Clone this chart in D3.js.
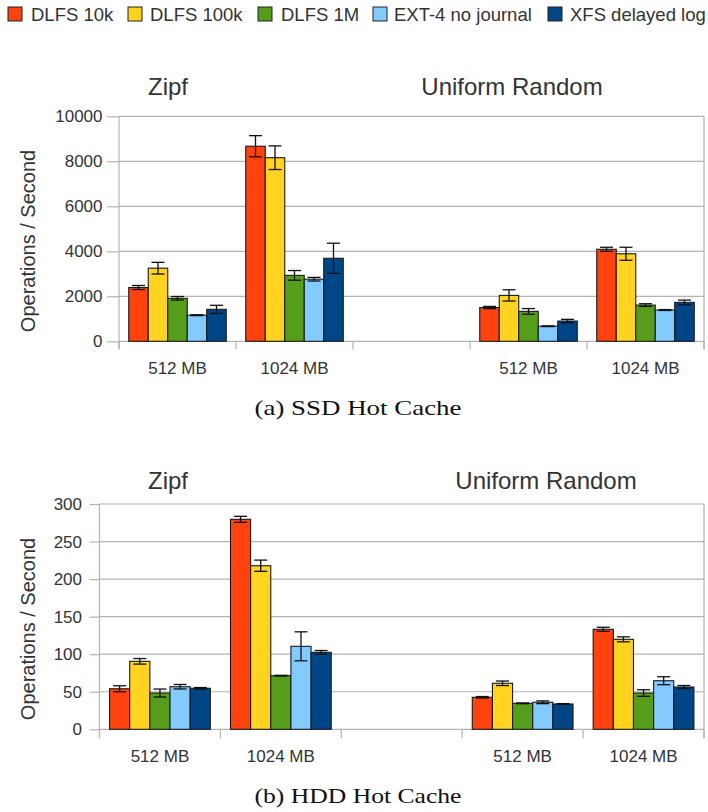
<!DOCTYPE html>
<html>
<head>
<meta charset="utf-8">
<script src="https://cdn.jsdelivr.net/npm/d3@7"></script>
<style>
  html, body { margin: 0; padding: 0; background: #fff; }
  svg { display: block; }
  text { font-family: "Liberation Sans", Arial, sans-serif; }
  text.caption { font-family: "Liberation Serif", "Times New Roman", serif; }
</style>
</head>
<body>
<svg id="chart" width="708" height="812"></svg>
<script>
// Series shown in every group
const series = ["DLFS 10k", "DLFS 100k", "DLFS 1M", "EXT-4 no journal", "XFS delayed log"];
const seriesColors = ["#ff420e", "#ffd320", "#579d1c", "#83caff", "#004586"];

// Category slots along the x axis (the middle slot is left empty)
const categories = ["512 MB", "1024 MB", "", "512 MB", "1024 MB"];
const workloads = ["Zipf", "Uniform Random"];

// SSD hot cache: mean and error per category, one entry per series
const ssdValues = [
  [2390, 3250, 1910, 1160, 1420],
  [8670, 8160, 2930, 2760, 3690],
  null,
  [1500, 2040, 1330, 670, 900],
  [4090, 3890, 1610, 1390, 1730]
];
const ssdErrors = [
  [90, 260, 80, 20, 180],
  [470, 525, 215, 80, 670],
  null,
  [50, 250, 125, 15, 75],
  [90, 290, 60, 20, 100]
];
const ssdTicks = [0, 2000, 4000, 6000, 8000, 10000];

// HDD hot cache
const hddValues = [
  [54, 90.5, 48.3, 56.7, 54.6],
  [279.6, 217.8, 71.4, 110.5, 102.5],
  null,
  [42.6, 61.3, 34.6, 36, 33.7],
  [133.2, 119.8, 48.3, 64.7, 56.3]
];
const hddErrors = [
  [4, 3.7, 5.3, 3, 1],
  [4, 7.5, 0.5, 19.3, 2.4],
  null,
  [1, 3, 0.5, 1.8, 0.5],
  [2.7, 3.3, 4.4, 5.3, 2]
];
const hddTicks = [0, 50, 100, 150, 200, 250, 300];

const svg = d3.select("#chart");
const gridColor = "#b3b3b3";
const textColor = "#333333";

// ---- legend ----
const legendItems = [
  { sq: 8, tx: 31 },
  { sq: 128, tx: 150 },
  { sq: 258, tx: 281 },
  { sq: 373, tx: 394 },
  { sq: 548, tx: 570 }
];
const legend = svg.append("g");
series.forEach((s, i) => {
  legend.append("rect")
    .attr("x", legendItems[i].sq).attr("y", 7)
    .attr("width", 14).attr("height", 14)
    .attr("fill", seriesColors[i])
    .attr("stroke", "#222").attr("stroke-width", 1);
  legend.append("text")
    .attr("x", legendItems[i].tx).attr("y", 21)
    .attr("font-size", 18.5).attr("fill", textColor)
    .text(s);
});

function drawPanel(cfg) {
  const g = svg.append("g");
  const x = d3.scaleBand().domain(d3.range(categories.length))
    .range([cfg.left, cfg.right]).paddingInner(0).paddingOuter(0);
  const xs = d3.scaleBand().domain(d3.range(series.length))
    .range([0, x.bandwidth()]).paddingInner(0).paddingOuter(0.5);
  const y = d3.scaleLinear().domain([0, cfg.max]).range([cfg.base, cfg.top]);

  // horizontal grid
  g.selectAll("line.grid").data(cfg.ticks).enter().append("line")
    .attr("x1", cfg.left).attr("x2", cfg.right)
    .attr("y1", d => y(d)).attr("y2", d => y(d))
    .attr("stroke", gridColor).attr("stroke-width", 1.2);

  // y axis
  const yAxis = d3.axisLeft(y).tickValues(cfg.ticks).tickFormat(d3.format("d"))
    .tickSize(cfg.tickLen).tickPadding(cfg.tickPad);
  const ya = g.append("g").attr("transform", `translate(${cfg.left},0)`).call(yAxis);
  ya.select(".domain").remove();
  ya.selectAll("line").attr("stroke", gridColor).attr("stroke-width", 1.2);
  ya.selectAll("text").attr("font-size", 17).attr("fill", textColor)
    .attr("font-family", null);
  g.append("line")
    .attr("x1", cfg.left).attr("x2", cfg.left)
    .attr("y1", y(cfg.max)).attr("y2", cfg.base + cfg.xTick)
    .attr("stroke", gridColor).attr("stroke-width", 1.2);
  g.append("line")
    .attr("x1", cfg.right).attr("x2", cfg.right)
    .attr("y1", y(cfg.max)).attr("y2", cfg.base + cfg.xTick)
    .attr("stroke", gridColor).attr("stroke-width", 1.2);

  // x axis category separators
  const bounds = d3.range(categories.length + 1).map(i => cfg.left + i * x.step());
  g.selectAll("line.xt").data(bounds).enter().append("line")
    .attr("x1", d => d).attr("x2", d => d)
    .attr("y1", cfg.base).attr("y2", cfg.base + cfg.xTick)
    .attr("stroke", gridColor).attr("stroke-width", 1.2);
  g.selectAll("text.cat").data(categories).enter().append("text")
    .attr("x", (d, i) => x(i) + x.bandwidth() / 2)
    .attr("y", cfg.catY)
    .attr("text-anchor", "middle")
    .attr("font-size", 17).attr("fill", textColor)
    .text(d => d);

  // bars with error bars
  cfg.values.forEach((vals, ci) => {
    if (!vals) return;
    const errs = cfg.errors[ci];
    const cg = g.append("g").attr("transform", `translate(${x(ci)},0)`);
    cg.selectAll("rect").data(vals).enter().append("rect")
      .attr("x", (d, i) => xs(i))
      .attr("y", d => y(d))
      .attr("width", xs.bandwidth())
      .attr("height", d => cfg.base - y(d))
      .attr("fill", (d, i) => seriesColors[i])
      .attr("stroke", "#1a1a1a").attr("stroke-width", 1.1);
    vals.forEach((v, i) => {
      const cx = xs(i) + xs.bandwidth() / 2;
      const e = errs[i];
      const eb = cg.append("g").attr("stroke", "#111").attr("stroke-width", 1.3);
      eb.append("line").attr("x1", cx).attr("x2", cx).attr("y1", y(v + e)).attr("y2", y(v - e));
      eb.append("line").attr("x1", cx - 6.5).attr("x2", cx + 6.5).attr("y1", y(v + e)).attr("y2", y(v + e));
      eb.append("line").attr("x1", cx - 6.5).attr("x2", cx + 6.5).attr("y1", y(v - e)).attr("y2", y(v - e));
    });
  });

  // workload titles
  workloads.forEach((w, i) => {
    g.append("text")
      .attr("x", cfg.titleX[i]).attr("y", cfg.titleY)
      .attr("text-anchor", "middle")
      .attr("font-size", 24).attr("fill", textColor)
      .text(w);
  });

  // y label
  g.append("text")
    .attr("transform", `translate(${cfg.yLabelX},${cfg.yLabelY}) rotate(-90)`)
    .attr("text-anchor", "middle")
    .attr("font-size", 20).attr("fill", textColor)
    .text("Operations / Second");

  // caption
  g.append("text")
    .attr("class", "caption")
    .attr("x", 358).attr("y", cfg.captionY)
    .attr("text-anchor", "middle")
    .attr("font-size", 21.5).attr("fill", "#111")
    .attr("textLength", 207).attr("lengthAdjust", "spacingAndGlyphs")
    .text(cfg.caption);
}

drawPanel({
  left: 119, right: 704, top: 116.3, base: 341.3, max: 10000,
  ticks: ssdTicks, values: ssdValues, errors: ssdErrors,
  tickLen: 12, tickPad: 4.5, xTick: 8,
  catY: 374, titleX: [168, 512], titleY: 95,
  yLabelX: 35, yLabelY: 241,
  captionY: 415, caption: "(a) SSD Hot Cache"
});

drawPanel({
  left: 99.5, right: 704, top: 504, base: 729.3, max: 300,
  ticks: hddTicks, values: hddValues, errors: hddErrors,
  tickLen: 10, tickPad: 7.5, xTick: 9,
  catY: 762, titleX: [168, 546], titleY: 489,
  yLabelX: 35, yLabelY: 629,
  captionY: 803, caption: "(b) HDD Hot Cache"
});
</script>
</body>
</html>
